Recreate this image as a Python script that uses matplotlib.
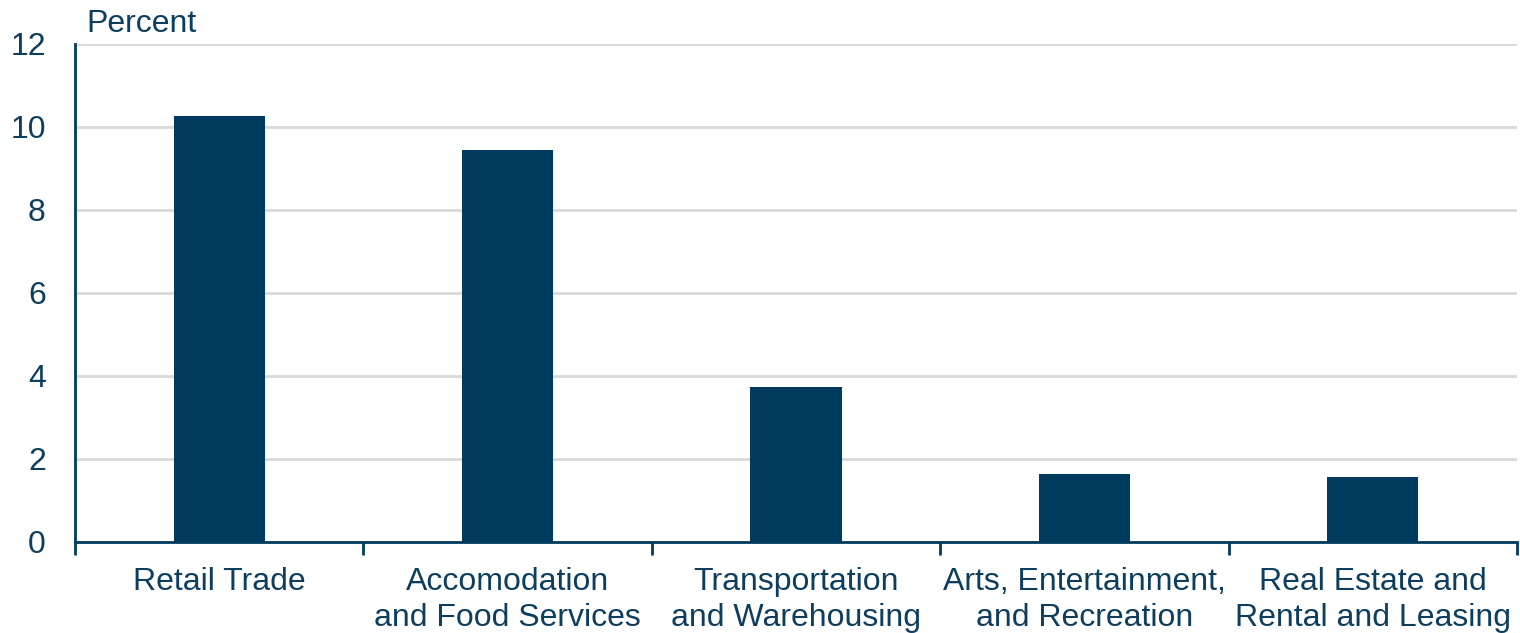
import matplotlib.pyplot as plt

plt.rcParams['font.family'] = ['Liberation Sans', 'DejaVu Sans']

# Share by industry (percent)
categories = ['Retail Trade', 'Accomodation\nand Food Services', 'Transportation\nand Warehousing',
              'Arts, Entertainment,\nand Recreation', 'Real Estate and\nRental and Leasing']
values = [10.27, 9.45, 3.73, 1.64, 1.57]
yticks = [0, 2, 4, 6, 8, 10, 12]

navy = '#003A5D'
text_color = '#0E3E5E'

fig = plt.figure(figsize=(15.2, 6.33), dpi=100)
ax = fig.add_axes([0.0493, 0.1438, 0.9487, 0.7867])

x = list(range(len(categories)))
ax.bar(x, values, width=0.316, color=navy, zorder=3)

ax.set_xlim(-0.5, len(categories) - 0.5)
ax.set_ylim(0, 12)
ax.set_yticks(yticks)
ax.set_yticklabels([str(t) for t in yticks])
ax.yaxis.grid(True, color='#D9D9D9', linewidth=2, zorder=0)
ax.tick_params(axis='y', length=0, pad=21, labelsize=23, labelcolor=text_color)

# Category labels centered, tick marks between categories
ax.set_xticks(x)
ax.set_xticklabels(categories, fontsize=23, color=text_color, linespacing=1.25)
ax.tick_params(axis='x', which='major', length=0, pad=18)
ax.set_xticks([i - 0.5 for i in range(len(categories) + 1)], minor=True)
ax.tick_params(axis='x', which='minor', length=9, width=2, color=navy)

for side in ['top', 'right']:
    ax.spines[side].set_visible(False)
for side in ['left', 'bottom']:
    ax.spines[side].set_color(navy)
    ax.spines[side].set_linewidth(2)

ax.text(0.008, 1.01, 'Percent', transform=ax.transAxes, fontsize=23,
        color=text_color, ha='left', va='bottom')

fig.savefig('out.png', dpi=100)
